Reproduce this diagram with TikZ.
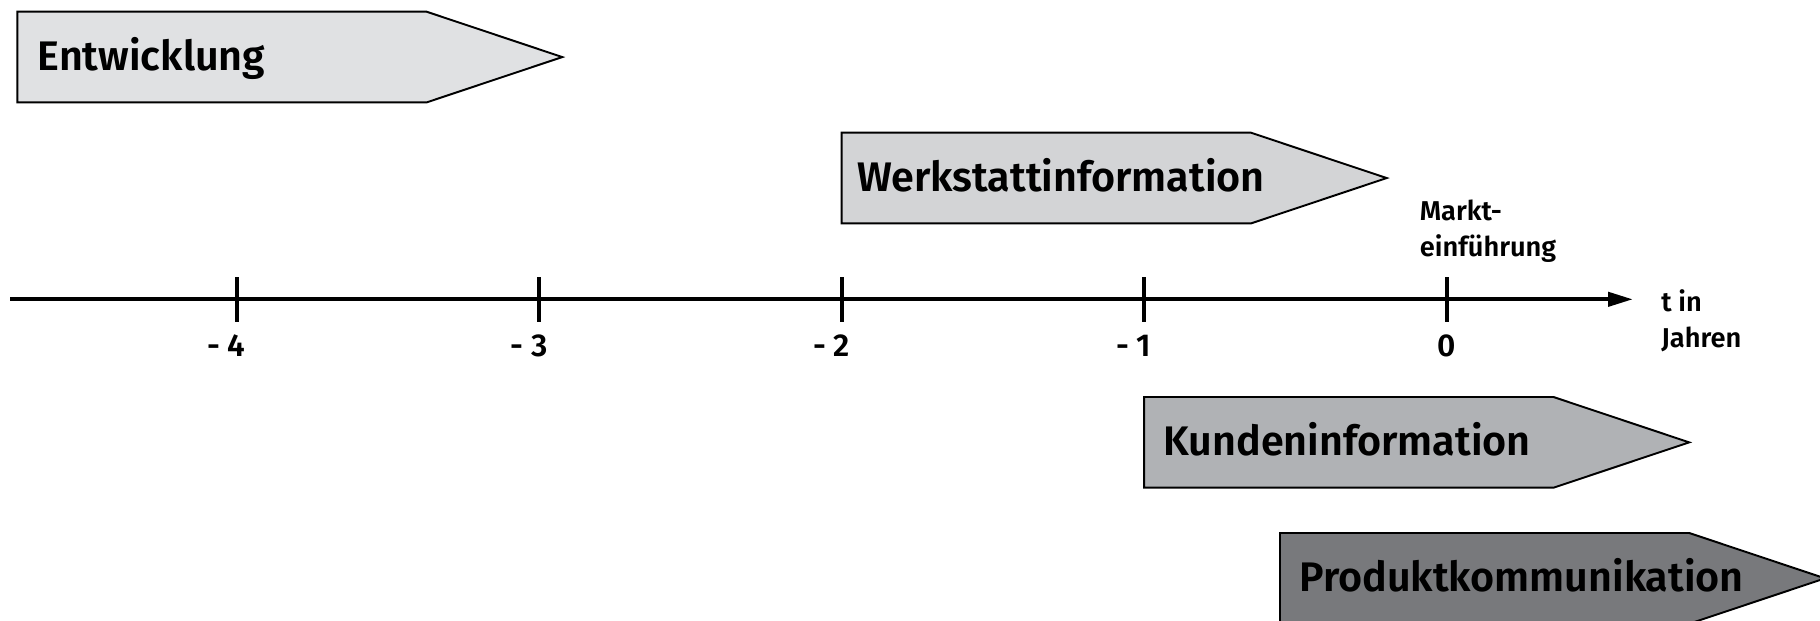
\documentclass[tikz,border=0pt]{standalone}
\usepackage{fontspec}
\setmainfont{Fira Sans}[BoldFont={Fira Sans SemiBold}]
\usepackage{tikz}
\usetikzlibrary{arrows.meta,positioning}
\usepackage{xcolor}
\definecolor{phgrayA}{RGB}{224,225,227}
\definecolor{phgrayB}{RGB}{211,212,214}
\definecolor{phgrayC}{RGB}{176,178,181}
\definecolor{phgrayD}{RGB}{120,121,124}
\tikzstyle{phase} = [draw=black, line width=1.1pt]
\tikzstyle{phaselabel} = [anchor=base west, inner sep=0pt, font=\fontsize{23.5}{28}\selectfont\bfseries]
\tikzstyle{axisline} = [line width=2.4pt, -{Triangle[length=0.5cm,width=0.28cm]}]
\tikzstyle{yearmark} = [line width=2.3pt]
\tikzstyle{yearlabel} = [anchor=base, inner sep=0pt, font=\fontsize{18}{22}\selectfont\bfseries]
\tikzstyle{notelabel} = [anchor=base west, inner sep=0pt, align=left, font=\fontsize{15.5}{20.5}\selectfont\bfseries]

\begin{document}
\begin{tikzpicture}[x=0.02cm, y=-0.02cm]
\clip (0,0) rectangle (1820,620);

% Phases
\draw[phase, fill=phgrayA] (17.3,11.7) -- ++(409.3,0) -- ++(135.7,45.35) -- ++(-135.7,45.35) -- ++(-409.3,0) -- cycle;
\node[phaselabel] (entw) at (37.3,70.7) {Entwicklung};

\draw[phase, fill=phgrayB] (841.7,132.7) -- ++(409.3,0) -- ++(135.7,45.35) -- ++(-135.7,45.35) -- ++(-409.3,0) -- cycle;
\node[phaselabel] (werk) at (856.7,191.2) {Werkstattinformation};

\draw[phase, fill=phgrayC] (1144.2,397) -- ++(409.3,0) -- ++(135.7,45.35) -- ++(-135.7,45.35) -- ++(-409.3,0) -- cycle;
\node[phaselabel] (kunde) at (1163.2,455.5) {Kundeninformation};

\draw[phase, fill=phgrayD] (1280,533) -- ++(409.3,0) -- ++(135.7,45.35) -- ++(-135.7,45.35) -- ++(-409.3,0) -- cycle;
\node[phaselabel] (prod) at (1299,591.5) {Produktkommunikation};

% Time axis
\coordinate (axstart) at (10,299.3);
\coordinate (axend) at (1633,299.3);
\draw[axisline] (axstart) -- (axend);

\draw[yearmark] (236.7,277.3) -- (236.7,321.7);
\draw[yearmark] (539.2,277.3) -- (539.2,321.7);
\draw[yearmark] (841.7,277.3) -- (841.7,321.7);
\draw[yearmark] (1144.2,277.3) -- (1144.2,321.7);
\draw[yearmark] (1446.7,277.3) -- (1446.7,321.7);

\node[yearlabel] (m4) at (236.7,356) {\llap{- }4};
\node[yearlabel] (m3) at (539.2,356) {\llap{- }3};
\node[yearlabel] (m2) at (841.7,356) {\llap{- }2};
\node[yearlabel] (m1) at (1144.2,356) {\llap{- }1};
\node[yearlabel] (m0) at (1446.7,356) {0};

% Labels
\node[notelabel] (markt) at (1419.5,256.7) {Markt-\\einführung};
\node[notelabel] (tjahre) at (1661,347.3) {t in\\Jahren};
\end{tikzpicture}
\end{document}
